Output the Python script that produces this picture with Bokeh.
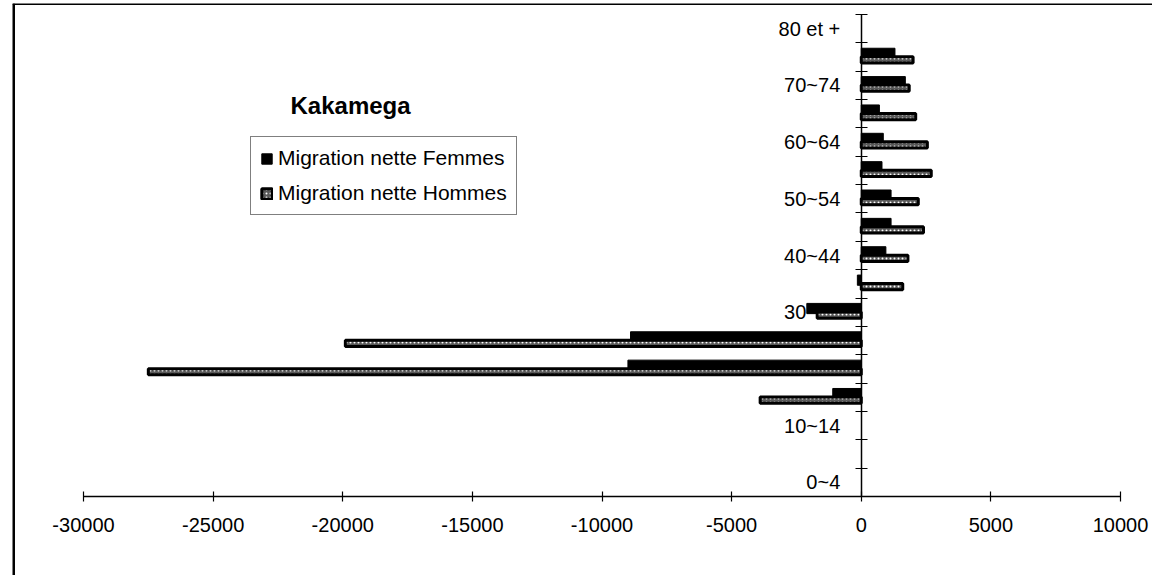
from bokeh.plotting import figure
from bokeh.models import (Range1d, LinearAxis, FixedTicker, Legend, LegendItem,
                          Label, ColumnDataSource, Span)
from bokeh.embed import file_html
from bokeh.resources import INLINE

# ---- data ----
categories = ["0~4", "5~9", "10~14", "15~19", "20~24", "25~29", "30~34", "35~39",
              "40~44", "45~49", "50~54", "55~59", "60~64", "65~69", "70~74",
              "75~79", "80 et +"]
femmes = [0, 0, 0, -1100, -9000, -8900, -2100, -150, 950, 1150, 1150, 800, 850,
          700, 1700, 1300, 0]
hommes = [0, 0, 0, -3900, -27500, -19900, -1700, 1600, 1800, 2400, 2200, 2700,
          2550, 2100, 1850, 2000, 0]
x_ticks = [-30000, -25000, -20000, -15000, -10000, -5000, 0, 5000, 10000]
title_text = "Kakamega"
name_f = "Migration nette Femmes"
name_h = "Migration nette Hommes"

FONT = "Liberation Sans"
n = len(categories)


def series_source(values, offset):
    rows = [i for i in range(n) if values[i] != 0]
    return ColumnDataSource(dict(
        idx=rows,
        val=[values[i] for i in rows],
        y=[i + 1 - offset for i in rows],
    ))


src_f = series_source(femmes, 0.37)
src_h = series_source(hommes, 0.60)

X0, X1 = -32739, 11234
Y0, Y1 = -2.786, 17.388
p = figure(width=1152, height=575, output_backend="svg", toolbar_location=None,
           x_range=Range1d(X0, X1), y_range=Range1d(Y0, Y1),
           x_axis_location=None, y_axis_location=None,
           min_border_left=12, min_border_right=0, min_border_top=3,
           min_border_bottom=0)
p.xgrid.visible = False
p.ygrid.visible = False
p.outline_line_color = None
p.background_fill_color = "white"
p.border_fill_color = "white"

# page frame: top and left edges only
p.add_layout(Span(location=Y1, dimension="width", line_color="black",
                  line_width=3))
p.add_layout(Span(location=X0, dimension="height", line_color="black",
                  line_width=5))

rf = p.hbar(y="y", left=0, right="val", height=0.36, source=src_f,
            fill_color="black", line_color="black", line_width=1)
rh = p.hbar(y="y", left=0, right="val", height=0.22, source=src_h,
            fill_color="#5a5a5a", line_color="black", line_width=3,
            hatch_pattern="dot", hatch_color="white", hatch_scale=4,
            hatch_weight=1)

# x axis crossing at y = 0
xaxis = LinearAxis(fixed_location=0, bounds=(x_ticks[0], x_ticks[-1]),
                   ticker=FixedTicker(ticks=x_ticks),
                   major_label_overrides={t: str(t) for t in x_ticks},
                   major_tick_in=5, major_tick_out=5,
                   minor_tick_line_color=None,
                   major_tick_line_color="black", axis_line_color="black",
                   axis_line_width=1.5, major_tick_line_width=1.2,
                   major_label_standoff=16,
                   major_label_text_font=FONT,
                   major_label_text_font_size="20px",
                   major_label_text_color="black")
p.add_layout(xaxis, "below")

# category labels (every other category), drawn under the bars
lab_ticks = [i + 0.5 for i in range(0, n, 2)]
lab_axis = LinearAxis(fixed_location=0, bounds=(0, n),
                      ticker=FixedTicker(ticks=lab_ticks),
                      major_label_overrides={i + 0.5: categories[i] for i in range(0, n, 2)},
                      major_tick_in=0, major_tick_out=0,
                      minor_tick_line_color=None, major_tick_line_color=None,
                      axis_line_color=None,
                      major_label_standoff=21,
                      major_label_text_font=FONT,
                      major_label_text_font_size="20px",
                      major_label_text_color="black",
                      level="underlay")
p.add_layout(lab_axis, "left")

# y axis line with tick marks at category boundaries, crossing at x = 0
yaxis = LinearAxis(fixed_location=0, bounds=(0, n),
                   ticker=FixedTicker(ticks=list(range(n + 1))),
                   major_label_overrides={i: "" for i in range(n + 1)},
                   major_tick_in=6, major_tick_out=6,
                   minor_tick_line_color=None,
                   major_tick_line_color="black", axis_line_color="black",
                   axis_line_width=1.5, major_tick_line_width=1.2,
                   major_label_text_font_size="10px")
p.add_layout(yaxis, "right")

p.add_layout(Label(x=278, y=470, x_units="screen", y_units="screen",
                   text=title_text, text_font=FONT, text_font_style="bold",
                   text_font_size="24px", text_baseline="middle",
                   text_color="black"))

legend = Legend(items=[LegendItem(label=name_f, renderers=[rf]),
                       LegendItem(label=name_h, renderers=[rh])],
                location=(238, 360), orientation="vertical",
                label_text_font=FONT, label_text_font_size="21px",
                label_text_color="black",
                glyph_width=13, glyph_height=13, label_height=23,
                label_standoff=5, spacing=11, padding=9, margin=0,
                border_line_color="black", border_line_width=1,
                background_fill_color="white", background_fill_alpha=1)
p.add_layout(legend, "center")

open("out.html", "w").write(file_html(p, INLINE))
